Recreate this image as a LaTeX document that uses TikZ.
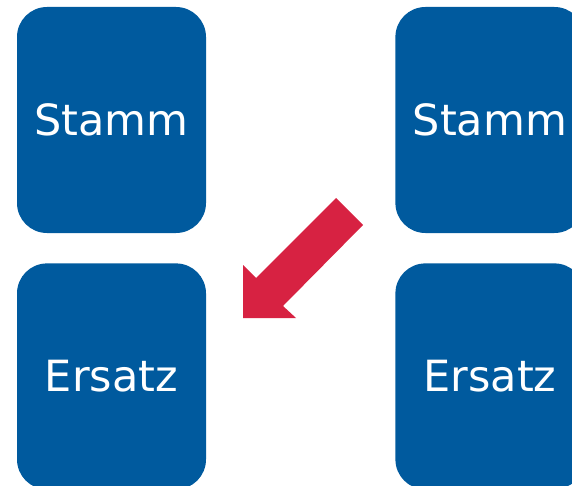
\documentclass[tikz,border=0pt]{standalone}
\usepackage{fontspec}
\setsansfont{DejaVu Sans}
\usetikzlibrary{positioning}
\definecolor{boxblue}{HTML}{005A9E}
\definecolor{arrowred}{HTML}{D72242}
\tikzset{every picture/.style={/utils/exec={\sffamily}}}

\begin{document}
\begin{tikzpicture}[x=1pt, y=-1pt, node distance=30pt and 189pt,
  card/.style={fill=boxblue, text=white, rounded corners=30pt, minimum width=189pt, minimum height=226pt, inner sep=0pt, font=\sffamily\fontsize{43}{50}\selectfont}]
  \useasboundingbox (0,0) rectangle (572,486);
  \clip (0,0) rectangle (572,486);

  \node [card] (stamm1) at (111.5,120) {Stamm};
  \node [card, right=of stamm1] (stamm2) {Stamm};
  \node [card, below=of stamm1] (ersatz1) {Ersatz};
  \node [card, below=of stamm2] (ersatz2) {Ersatz};

  % block arrow
  \fill [arrowred] (336,198) -- (363,225) -- (283,306) -- (296,318) -- (243,318) -- (243,265) -- (256,278) -- cycle;
\end{tikzpicture}
\end{document}
